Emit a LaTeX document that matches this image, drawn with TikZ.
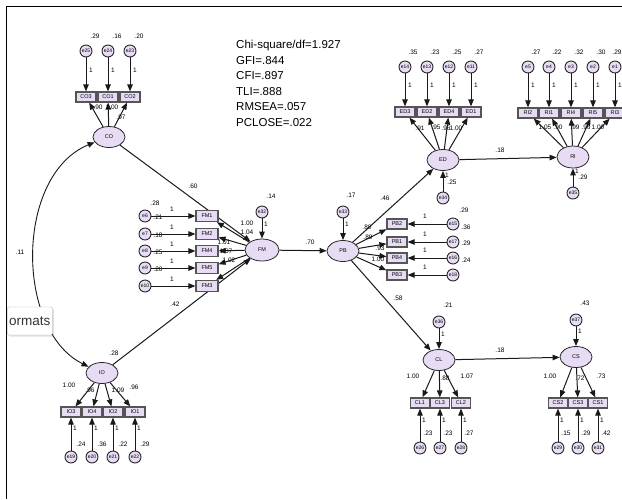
\documentclass[tikz,border=0pt]{standalone}
\usepackage{fontspec}
\setmainfont{Liberation Sans}
\usepackage{tikz}
\usetikzlibrary{shapes.geometric, arrows.meta, shadows}
\definecolor{lilac}{RGB}{232, 220, 244}
\definecolor{edge}{RGB}{40, 40, 40}
\definecolor{boxedge}{RGB}{85, 85, 85}

\begin{document}
\begin{tikzpicture}[x=1pt, y=-1pt,
  lat/.style={ellipse, fill=lilac, draw=edge, line width=0.8pt,
    minimum width=32pt, minimum height=21pt, inner sep=0pt,
    font=\fontsize{5.5pt}{6pt}\selectfont},
  obs/.style={rectangle, fill=lilac, draw=boxedge, line width=1.2pt,
    minimum width=20pt, minimum height=10pt, inner sep=0pt,
    font=\fontsize{5.5pt}{6pt}\selectfont},
  err/.style={circle, fill=lilac, draw=edge, line width=0.9pt,
    minimum size=12pt, inner sep=0pt, font=\fontsize{5pt}{5pt}\selectfont},
  arr/.style={-{Triangle[length=7pt, width=5.5pt]}, line width=1pt, color=black!90},
  cov/.style={{Triangle[length=7pt, width=5.5pt]}-{Triangle[length=7pt, width=5.5pt]},
    line width=0.9pt, color=black!90},
  num/.style={font=\fontsize{6.5pt}{7pt}\selectfont, inner sep=0pt},
  fitstat/.style={font=\fontsize{11.5pt}{15.6pt}\selectfont, align=left,
    anchor=north west, inner sep=0pt},
  tip/.style={rectangle, draw=gray!60, fill=white, rounded corners=1.5pt,
    minimum height=28pt, inner xsep=2pt, text=black!80,
    font=\fontsize{13.5pt}{14pt}\selectfont,
    drop shadow={opacity=0.25, shadow xshift=1.5pt, shadow yshift=-1.5pt}}
]
\useasboundingbox (0,0) rectangle (622,499);
\draw[line width=0.8pt] (6,499) -- (6,6) -- (622,6);

% latent variables
\node[lat] (co) at (109,137) {CO};
\node[lat] (io) at (102,373) {IO};
\node[lat, minimum width=34pt, minimum height=22pt] (fm) at (262,250) {FM};
\node[lat] (pb) at (343,251) {PB};
\node[lat] (ed) at (443,160) {ED};
\node[lat, minimum height=22pt] (ri) at (573,157) {RI};
\node[lat] (cl) at (439,360) {CL};
\node[lat] (cs) at (576,357) {CS};

% residuals of the endogenous factors
\node[err] (e32) at (262,212) {e32};
\node[err] (e33) at (343,212) {e33};
\node[err] (e34) at (443,198) {e34};
\node[err] (e35) at (573,193) {e35};
\node[err] (e36) at (439,322) {e36};
\node[err] (e37) at (576,320) {e37};
\draw[arr] (e32) -- (fm);
\draw[arr] (e33) -- (pb);
\draw[arr] (e34) -- (ed);
\draw[arr] (e35) -- (ri);
\draw[arr] (e36) -- (cl);
\draw[arr] (e37) -- (cs);
\node[num] (v32) at (271,196) {.14};
\node[num] (v33) at (351,195) {.17};
\node[num] (v34) at (452,182) {.25};
\node[num] (v35) at (583,177) {.29};
\node[num] (v36) at (448,305) {.21};
\node[num] (v37) at (585,303) {.43};
\node[num] (w32) at (266,224) {1};
\node[num] (w33) at (347,224) {1};
\node[num] (w34) at (447,175) {1};
\node[num] (w35) at (577,171) {1};
\node[num] (w36) at (443,334) {1};
\node[num] (w37) at (580,331) {1};

% structural paths
\draw[arr] (co) -- (fm);
\draw[arr] (io) -- (fm);
\draw[arr] (fm) -- (pb);
\draw[arr] (pb) -- (ed);
\draw[arr] (pb) -- (cl);
\draw[arr] (ed) -- (ri);
\draw[arr] (cl) -- (cs);
\draw[cov] (co.200) .. controls (15,175) and (15,330) .. (io.155);
\node[num] (p-covar) at (20,252) {.11};
\node[num] (p-cofm) at (193,186) {.60};
\node[num] (p-iofm) at (175,304) {.42};
\node[num] (p-fmpb) at (310,242) {.70};
\node[num] (p-pbed) at (385,198) {.46};
\node[num] (p-pbcl) at (398,298) {.58};
\node[num] (p-edri) at (500,150) {.18};
\node[num] (p-clcs) at (500,350) {.18};
\node[num] (r-io) at (114,353) {.28};

% CO items
\foreach \x/\t/\e/\v in {86/CO3/25/.29, 108/CO1/24/.16, 130/CO2/23/.20}{
  \node[err] (e\e) at (\x,51) {e\e};
  \node[obs] (\t) at (\x,97) {\t};
  \node[num] (v\e) at (\x+9,36) {\v};
  \node[num] (w\e) at (\x+5,70) {1};
  \draw[arr] (e\e) -- (\t);
  \draw[arr] (co) -- (\t);
}
\node[num] (l-co3) at (98,107) {.90};
\node[num] (l-co1) at (112,107) {1.00};
\node[num] (l-co2) at (121,117) {.97};

% IO items
\foreach \x/\t/\e/\v in {71/IO3/19/.24, 92/IO4/20/.36, 113/IO2/21/.22, 135/IO1/22/.29}{
  \node[err] (e\e) at (\x,457) {e\e};
  \node[obs] (\t) at (\x,412) {\t};
  \node[num] (v\e) at (\x+10,444) {\v};
  \node[num] (w\e) at (\x+4,428) {1};
  \draw[arr] (e\e) -- (\t);
  \draw[arr] (io) -- (\t);
}
\node[num] (l-io3) at (69,385) {1.00};
\node[num] (l-io4) at (90,390) {.96};
\node[num] (l-io2) at (118,390) {1.09};
\node[num] (l-io1) at (134,387) {.96};

% FM items
\node[num] (r-fm) at (155,203) {.28};
\foreach \y/\v/\e in {217/.21/6, 235/.18/7, 252/.25/8, 269/.20/9}{
  \node[num] (v\e) at (158,\y) {\v};
}
\foreach \y/\t/\e in {216/FM1/6, 234/FM2/7, 251/FM4/8, 268/FM5/9, 286/FM3/10}{
  \node[err] (e\e) at (145,\y) {e\e};
  \node[obs, minimum width=22pt, minimum height=11pt] (\t) at (207,\y) {\t};
  \node[num] (w\e) at (172,\y-7) {1};
  \draw[arr] (e\e) -- (\t);
  \draw[arr] (fm) -- (\t);
}
\node[num] (l-fm1) at (247,223) {1.00};
\node[num] (l-fm2) at (247,232) {1.04};
\node[num] (l-fm4) at (224,242) {1.01};
\node[num] (l-fm5) at (226,251) {1.07};
\node[num] (l-fm3) at (229,260) {1.02};

% PB items
\node[num] (r-pb) at (464,210) {.29};
\foreach \y/\v/\e in {227/.36/15, 243/.29/17, 260/.24/16}{
  \node[num] (v\e) at (466,\y) {\v};
}
\foreach \y/\t/\e in {224/PB2/15, 242/PB1/17, 258/PB4/16, 275/PB3/18}{
  \node[err] (e\e) at (453,\y) {e\e};
  \node[obs] (\t) at (397,\y) {\t};
  \node[num] (w\e) at (425,\y-8) {1};
  \draw[arr] (e\e) -- (\t);
  \draw[arr] (pb) -- (\t);
}
\node[num] (l-pb2) at (367,227) {.80};
\node[num] (l-pb1) at (368,237) {.89};
\node[num] (l-pb4) at (380,248) {.93};
\node[num] (l-pb3) at (378,259) {1.00};

% ED items
\foreach \x/\t/\e/\v in {405/ED3/14/.35, 427/ED2/13/.23, 449/ED4/12/.25, 471/ED1/11/.27}{
  \node[err] (e\e) at (\x,67) {e\e};
  \node[obs] (\t) at (\x,112) {\t};
  \node[num] (v\e) at (\x+8,52) {\v};
  \node[num] (w\e) at (\x+5,85) {1};
  \draw[arr] (e\e) -- (\t);
  \draw[arr] (ed) -- (\t);
}
\node[num] (l-ed3) at (420,128) {.91};
\node[num] (l-ed2) at (436,127) {.95};
\node[num] (l-ed4) at (446,128) {.96};
\node[num] (l-ed1) at (456,128) {1.00};

% RI items
\foreach \x/\t/\e/\v/\d in {528/RI2/5/.27/8, 549/RI1/4/.22/8, 571/RI4/3/.32/8, 593/RI5/2/.30/8, 615/RI3/1/.29/2}{
  \node[err] (e\e) at (\x,67) {e\e};
  \node[obs] (\t) at (\x,113) {\t};
  \node[num] (v\e) at (\x+\d,52) {\v};
  \node[num] (w\e) at (\x+5,85) {1};
  \draw[arr] (e\e) -- (\t);
  \draw[arr] (ri) -- (\t);
}
\node[num] (l-ri2) at (545,127) {1.05};
\node[num] (l-ri1) at (558,127) {.90};
\node[num] (l-ri4) at (575,127) {.99};
\node[num] (l-ri5) at (586,127) {.96};
\node[num] (l-ri3) at (598,127) {1.00};

% CL items
\foreach \x/\t/\e/\v in {420/CL1/26/.23, 440/CL3/27/.23, 461/CL2/28/.27}{
  \node[err] (e\e) at (\x,448) {e\e};
  \node[obs, minimum width=19pt] (\t) at (\x,403) {\t};
  \node[num] (v\e) at (\x+8,433) {\v};
  \node[num] (w\e) at (\x+4,420) {1};
  \draw[arr] (e\e) -- (\t);
  \draw[arr] (cl) -- (\t);
}
\node[num] (l-cl1) at (413,376) {1.00};
\node[num] (l-cl3) at (445,378) {.88};
\node[num] (l-cl2) at (467,376) {1.07};

% CS items
\foreach \x/\t/\e/\v in {558/CS2/29/.15, 578/CS3/30/.29, 598/CS1/31/.42}{
  \node[err] (e\e) at (\x,448) {e\e};
  \node[obs, minimum width=19pt] (\t) at (\x,403) {\t};
  \node[num] (v\e) at (\x+8,433) {\v};
  \node[num] (w\e) at (\x+4,420) {1};
  \draw[arr] (e\e) -- (\t);
  \draw[arr] (cs) -- (\t);
}
\node[num] (l-cs2) at (550,376) {1.00};
\node[num] (l-cs3) at (580,378) {.72};
\node[num] (l-cs1) at (601,376) {.73};

% fit indices
\node[fitstat] (fitidx) at (236,40)
  {Chi-square/df=1.927\\GFI=.844\\CFI=.897\\TLI=.888\\RMSEA=.057\\PCLOSE=.022};

% tooltip left over from the screen
\node[tip, anchor=west] (tipbox) at (7,321) {ormats};
\end{tikzpicture}
\end{document}
